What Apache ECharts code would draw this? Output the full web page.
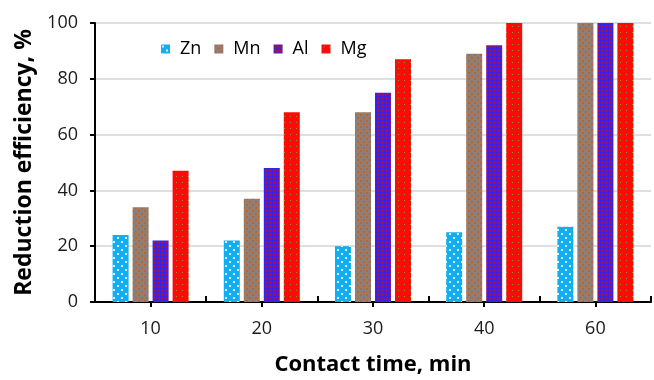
<!DOCTYPE html>
<html><head><meta charset="utf-8">
<script src="https://cdn.jsdelivr.net/npm/echarts@6/dist/echarts.min.js"></script>
<style>html,body{margin:0;padding:0;background:#fff}#c{width:654px;height:380px}</style>
</head><body><div id="c"></div>
<script>
const categories = ['10', '20', '30', '40', '60'];
const seriesNames = ['Zn', 'Mn', 'Al', 'Mg'];
const zn = [24, 22, 20, 25, 27];
const mn = [34, 37, 68, 89, 100];
const al = [22, 48, 75, 92, 100];
const mg = [47, 68, 87, 100, 100];
const yTicks = [0, 20, 40, 60, 80, 100];

function pat(w, h, draw) {
  const c = document.createElement('canvas');
  c.width = w; c.height = h;
  draw(c.getContext('2d'));
  return { image: c, repeat: 'repeat' };
}
const znPat = pat(8, 8, g => {
  g.fillStyle = '#12aef0'; g.fillRect(0, 0, 8, 8);
  g.fillStyle = '#d8f2ff'; g.fillRect(1, 1, 2, 2); g.fillRect(5, 5, 2, 2);
});
const mnPat = pat(6, 6, g => {
  g.fillStyle = '#8e8078'; g.fillRect(0, 0, 6, 6);
  g.fillStyle = '#b8662e'; g.fillRect(0, 0, 2, 2); g.fillRect(3, 3, 2, 2);
  g.fillStyle = '#a4745a'; g.fillRect(3, 0, 1, 1); g.fillRect(0, 3, 1, 1);
});
const alPat = pat(4, 4, g => {
  g.fillStyle = '#3c1ee6'; g.fillRect(0, 0, 4, 4);
  g.fillStyle = '#b0102e'; g.fillRect(1, 1, 3, 3);
});
const mgPat = pat(6, 6, g => {
  g.fillStyle = '#ff0a0a'; g.fillRect(0, 0, 6, 6);
  g.fillStyle = '#a88a20'; g.fillRect(2, 2, 1, 1);
});
const pats = [znPat, mnPat, alPat, mgPat];
const dataArr = [zn, mn, al, mg];

const FONT = '"Open Sans", Lato, sans-serif';
const chart = echarts.init(document.getElementById('c'), null, { renderer: 'canvas' });
chart.setOption({
  animation: false,
  backgroundColor: '#fff',
  grid: { left: 95, right: 3, top: 23, bottom: 78, containLabel: false, outerBoundsMode: 'none' },
  legend: {
    top: 35, left: 156, itemWidth: 9, itemHeight: 9, itemGap: 13,
    textStyle: { fontFamily: FONT, fontSize: 18, color: '#000', padding: [0, 0, 0, 5] },
    data: seriesNames.map((n, i) => ({ name: n, icon: 'rect', itemStyle: { color: pats[i] } }))
  },
  xAxis: [{
    type: 'category', data: categories, name: 'Contact time, min',
    nameLocation: 'middle', nameGap: 52,
    nameTextStyle: { fontFamily: FONT, fontSize: 22, fontWeight: 'bold', color: '#000' },
    axisLine: { lineStyle: { color: '#000', width: 2 } },
    axisTick: { show: true, alignWithLabel: true, length: 5, lineStyle: { color: '#000', width: 2 } },
    axisLabel: { fontFamily: FONT, fontSize: 18, color: '#1a1a1a', margin: 18 }
  }, {
    type: 'category', data: categories, position: 'bottom',
    axisLine: { show: false },
    axisTick: { show: true, inside: true, length: 6, lineStyle: { color: '#000', width: 2 } },
    axisLabel: { show: false }
  }],
  yAxis: {
    type: 'value', min: 0, max: 100, interval: 20,
    name: 'Reduction efficiency, %', nameLocation: 'middle', nameGap: 57,
    nameTextStyle: { fontFamily: FONT, fontSize: 23, fontWeight: 'bold', color: '#000' },
    axisLine: { show: true, lineStyle: { color: '#000', width: 2 } },
    axisTick: { show: true, length: 5, lineStyle: { color: '#000', width: 2 } },
    axisLabel: { fontFamily: FONT, fontSize: 18, color: '#1a1a1a', margin: 17,
      formatter: v => yTicks.includes(v) ? String(v) : '' },
    splitLine: { lineStyle: { color: '#d4d4d4', width: 1.5 } }
  },
  series: seriesNames.map((n, i) => ({
    name: n, type: 'bar', data: dataArr[i], xAxisIndex: 0,
    barWidth: 16, barGap: '25%',
    itemStyle: { color: pats[i] }
  }))
});
</script></body></html>
